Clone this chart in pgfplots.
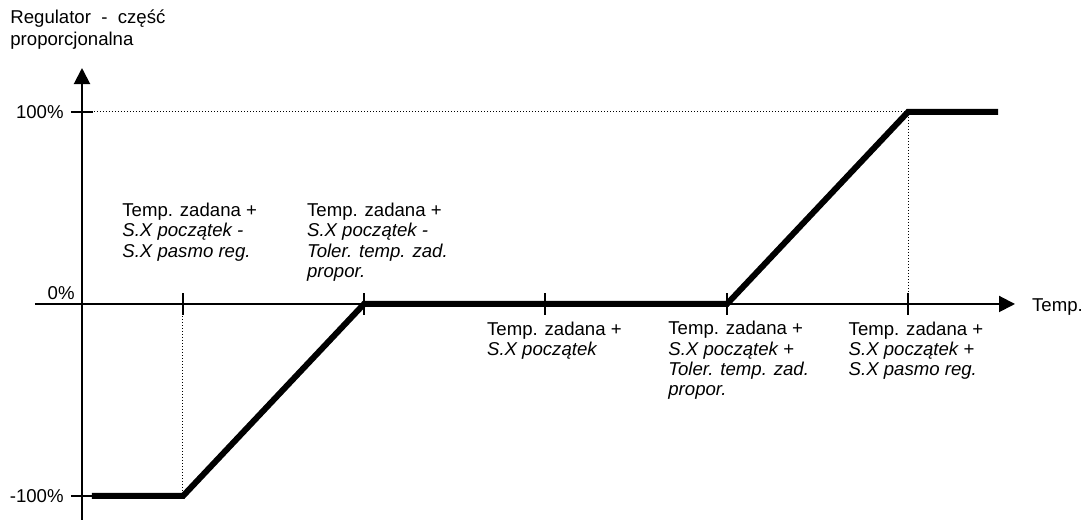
\documentclass[border=0pt]{standalone}
\usepackage{pgfplots}
\pgfplotsset{compat=1.18}
\usetikzlibrary{arrows.meta}
\usepackage{fontspec}
\setmainfont{Liberation Sans}

\begin{document}
\begin{tikzpicture}
\fontsize{9.3}{10.1}\selectfont
\begin{axis}[
    x=0.5pt, y=0.96pt,
    xmin=-47, xmax=933,
    ymin=-112.5, ymax=122.9,
    axis lines=middle,
    axis line style={line width=1pt, -{Triangle[length=8pt,width=8pt]}},
    xtick={101,282,463,645,826},
    ytick={-100,100},
    xticklabels={}, yticklabels={},
    tick align=center,
    major tick length=11pt,
    tick style={black, line width=0.8pt},
    clip=false,
]
% dotted guide lines
\addplot[black, line width=0.5pt, dash pattern=on 0.5pt off 1pt] coordinates {(0,100) (826,100) (826,0)};
\addplot[black, line width=0.5pt, dash pattern=on 0.5pt off 1pt] coordinates {(101,0) (101,-100)};
% controller characteristic
\addplot[black, line width=3pt, line join=miter] coordinates {
    (10,-100) (101,-100) (282,0) (645,0) (826,100) (916,100)};

% labels (anchor = baseline of the last line)
\node[anchor=base west, align=left, inner sep=0pt, font=\fontsize{9.3}{11.2}\selectfont] at (axis cs:-72,134.5) {Regulator\ \ -\ \ część\\proporcjonalna};
\node[anchor=east, inner sep=0pt] at (axis cs:-18,100) {100\%};
\node[anchor=east, inner sep=0pt] at (axis cs:-18,-100) {-100\%};
\node[anchor=base east, inner sep=0pt] at (axis cs:-7,2.4) {0\%};
\node[anchor=base west, inner sep=0pt] at (axis cs:949.7,-4) {Temp.};

\node[anchor=base west, align=left, inner sep=0pt] at (axis cs:40,24.4)
    {Temp. zadana +\\\textit{S.X początek -}\\\textit{S.X pasmo reg.}};
\node[anchor=base west, align=left, inner sep=0pt] at (axis cs:224.7,13.9)
    {Temp. zadana +\\\textit{S.X początek -}\\\textit{Toler. temp. zad.}\\\textit{propor.}};
\node[anchor=base west, align=left, inner sep=0pt] at (axis cs:404.7,-26.7)
    {Temp. zadana +\\\textit{S.X początek}};
\node[anchor=base west, align=left, inner sep=0pt] at (axis cs:586,-47.7)
    {Temp. zadana +\\\textit{S.X początek +}\\\textit{Toler. temp. zad.}\\\textit{propor.}};
\node[anchor=base west, align=left, inner sep=0pt] at (axis cs:766.3,-37.2)
    {Temp. zadana +\\\textit{S.X początek +}\\\textit{S.X pasmo reg.}};

\coordinate (bl) at (axis cs:-82,-117.19);
\coordinate (tr) at (axis cs:1001,158.33);
\end{axis}
\pgfresetboundingbox
\useasboundingbox (bl) rectangle (tr);
\end{tikzpicture}
\end{document}
